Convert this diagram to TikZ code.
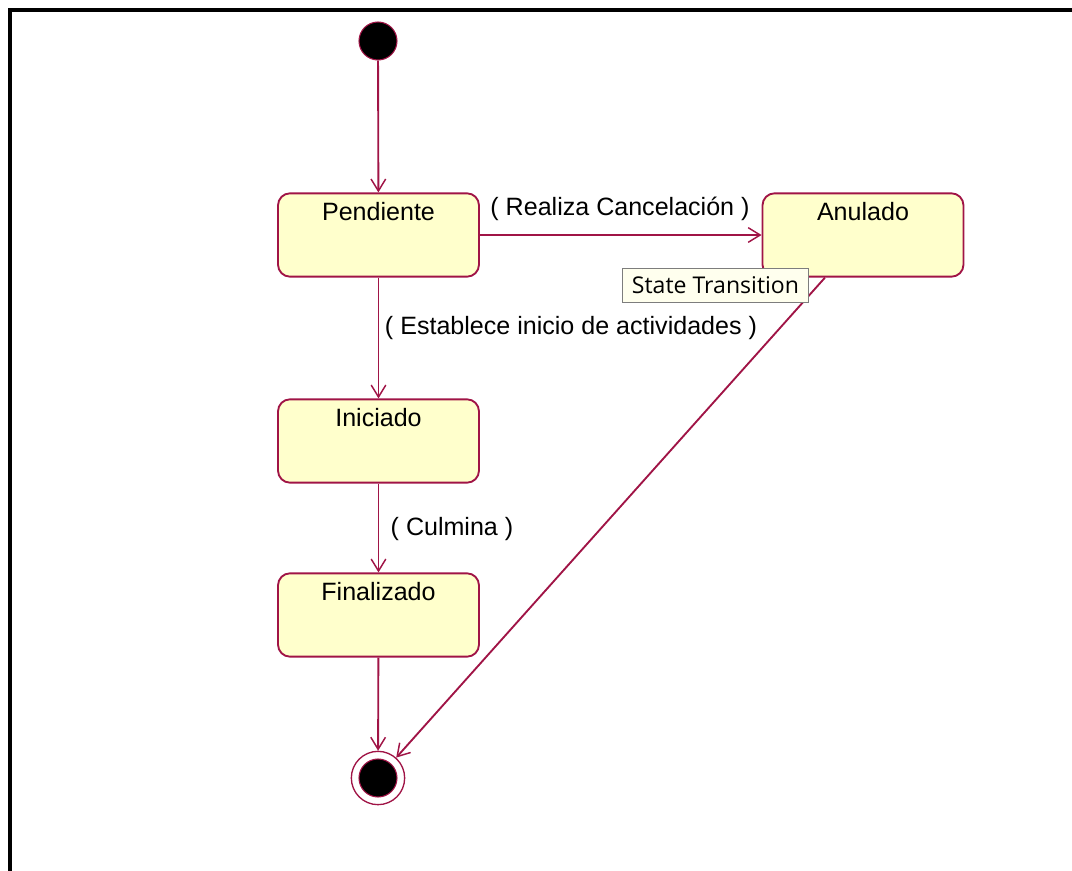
\documentclass[tikz,border=0pt]{standalone}
\usepackage{fontspec}
\setmainfont{Liberation Sans}
\newfontfamily\tipfont{Open Sans}
\usetikzlibrary{arrows.meta}
\definecolor{umlborder}{RGB}{160,20,70}
\definecolor{umlfill}{RGB}{255,255,204}
\definecolor{tipfill}{RGB}{255,255,238}
\definecolor{tipborder}{RGB}{125,125,125}

\begin{document}
\begin{tikzpicture}[x=0.75pt,y=-0.75pt,
  state/.style={draw=umlborder, line width=1.4pt, fill=umlfill, rounded corners=9pt,
    minimum width=150.75pt, minimum height=62.5pt, inner sep=0pt},
  statename/.style={anchor=north, font=\fontsize{18.8}{22}\selectfont, inner sep=0pt},
  guard/.style={font=\fontsize{18.8}{22}\selectfont, inner sep=0pt},
  trans/.style={draw=umlborder, line width=1.4pt,
    -{Straight Barb[length=9pt,width=11pt,line width=1.1pt]}},
  initstate/.style={circle, fill=black, draw=umlborder, line width=0.8pt,
    minimum size=28.5pt, inner sep=0pt},
  finalring/.style={circle, draw=umlborder, line width=1pt, fill=white,
    minimum size=40pt, inner sep=0pt},
  tooltip/.style={draw=tipborder, line width=0.8pt, fill=tipfill,
    minimum width=140pt, minimum height=26pt, inner sep=0pt,
    font=\tipfont\fontsize{17.3}{20}\selectfont}
]
\useasboundingbox (0,0) rectangle (1072,871);

% frame
\draw[line width=3pt] (10,871) -- (10,9.5) -- (1072,9.5);

% states
\node[initstate] (init) at (378,41) {};
\node[state] (pend) at (378.5,235) {};
\node[statename] (pendt) at ([yshift=-7.5pt]pend.north) {Pendiente};
\node[state] (anul) at (863,235) {};
\node[statename] (anult) at ([yshift=-7.5pt]anul.north) {Anulado};
\node[state] (inic) at (378.5,441) {};
\node[statename] (inict) at ([yshift=-7.5pt]inic.north) {Iniciado};
\node[state] (fina) at (378.5,615) {};
\node[statename] (finat) at ([yshift=-7.5pt]fina.north) {Finalizado};
\node[finalring] (final) at (378,778) {};
\node[initstate] (finaldot) at (378,778) {};

% transitions
\draw[trans] (init) -- (pend);
\draw[trans] (pend) -- (anul);
\draw[trans] (pend) -- (inic);
\draw[trans] (inic) -- (fina);
\draw[trans] (fina) -- (final);
\draw[trans] (anul) -- (final);

% guards
\node[guard] (g1) at (620,209) {( Realiza Cancelación )};
\node[guard] (g2) at (571,328) {( Establece inicio de actividades )};
\node[guard] (g3) at (452,529) {( Culmina )};

% hover hint
\node[tooltip] (tip) at (715.5,285.5) {State Transition};
\end{tikzpicture}
\end{document}
